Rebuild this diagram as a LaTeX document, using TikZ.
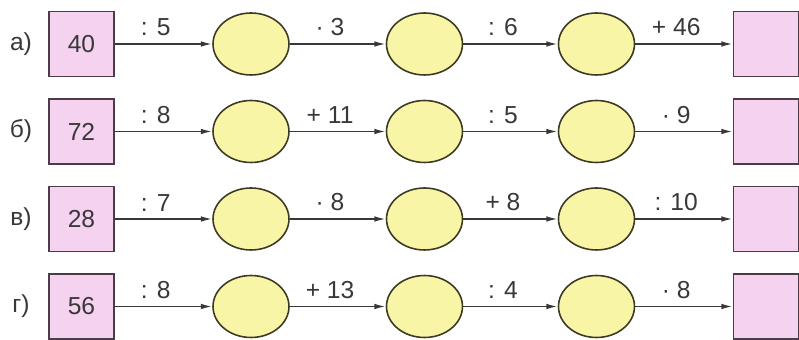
\documentclass[tikz,border=0pt]{standalone}
\usepackage{fontspec}
\setmainfont{Liberation Sans}
\usepackage{xcolor}
\usepackage{tikz}
\usetikzlibrary{arrows.meta,shapes.geometric}
\definecolor{boxfill}{HTML}{F4D2F0}
\definecolor{boxline}{HTML}{4A3C48}
\definecolor{ovalfill}{HTML}{F8F5A6}
\definecolor{ovalline}{HTML}{3C3A22}
\definecolor{inkc}{HTML}{383838}
\tikzset{
  startbox/.style={draw=boxline, fill=boxfill, line width=0.9pt, minimum size=1.3cm, inner sep=0pt,
               font=\fontsize{14}{16}\selectfont, text=inkc},
  oval/.style={ellipse, draw=ovalline, fill=ovalfill, line width=0.9pt, minimum width=1.52cm,
               minimum height=1.24cm, inner sep=0pt},
  flow/.style={-{Latex[length=6.5pt,width=3.2pt]}, line width=0.9pt, draw=inkc},
  oplabel/.style={pos=0.42, above=4pt, inner sep=0pt, font=\fontsize{14}{16}\selectfont, text=inkc},
  rowlabel/.style={font=\fontsize{14}{16}\selectfont, text=inkc, inner sep=0pt},
}
\def\xA{81.5}
\def\xB{251}
\def\xC{424.5}
\def\xD{596.5}
\def\xE{766}
\newcommand{\chainrow}[8]{%
  \node[rowlabel] (#1l) at (21,#3) {#2};
  \node[startbox] (#1s) at (\xA,#3) {#4};
  \node[oval] (#1p) at (\xB,#3) {};
  \node[oval] (#1q) at (\xC,#3) {};
  \node[oval] (#1r) at (\xD,#3) {};
  \node[startbox] (#1t) at (\xE,#3) {};
  \draw[flow] (#1s) -- node[oplabel] {#5} (#1p);
  \draw[flow] (#1p) -- node[oplabel] {#6} (#1q);
  \draw[flow] (#1q) -- node[oplabel] {#7} (#1r);
  \draw[flow] (#1r) -- node[oplabel] {#8} (#1t);}

\begin{document}
\begin{tikzpicture}[x=0.02cm, y=-0.02cm]
  \useasboundingbox (0,0) rectangle (799,340);
  \chainrow{a}{а)}{44}{40}{: 5}{· 3}{: 6}{+ 46}
  \chainrow{b}{б)}{131.5}{72}{: 8}{+ 11}{: 5}{· 9}
  \chainrow{c}{в)}{219}{28}{: 7}{· 8}{+ 8}{: 10}
  \chainrow{d}{г)}{306.5}{56}{: 8}{+ 13}{: 4}{· 8}
\end{tikzpicture}
\end{document}
